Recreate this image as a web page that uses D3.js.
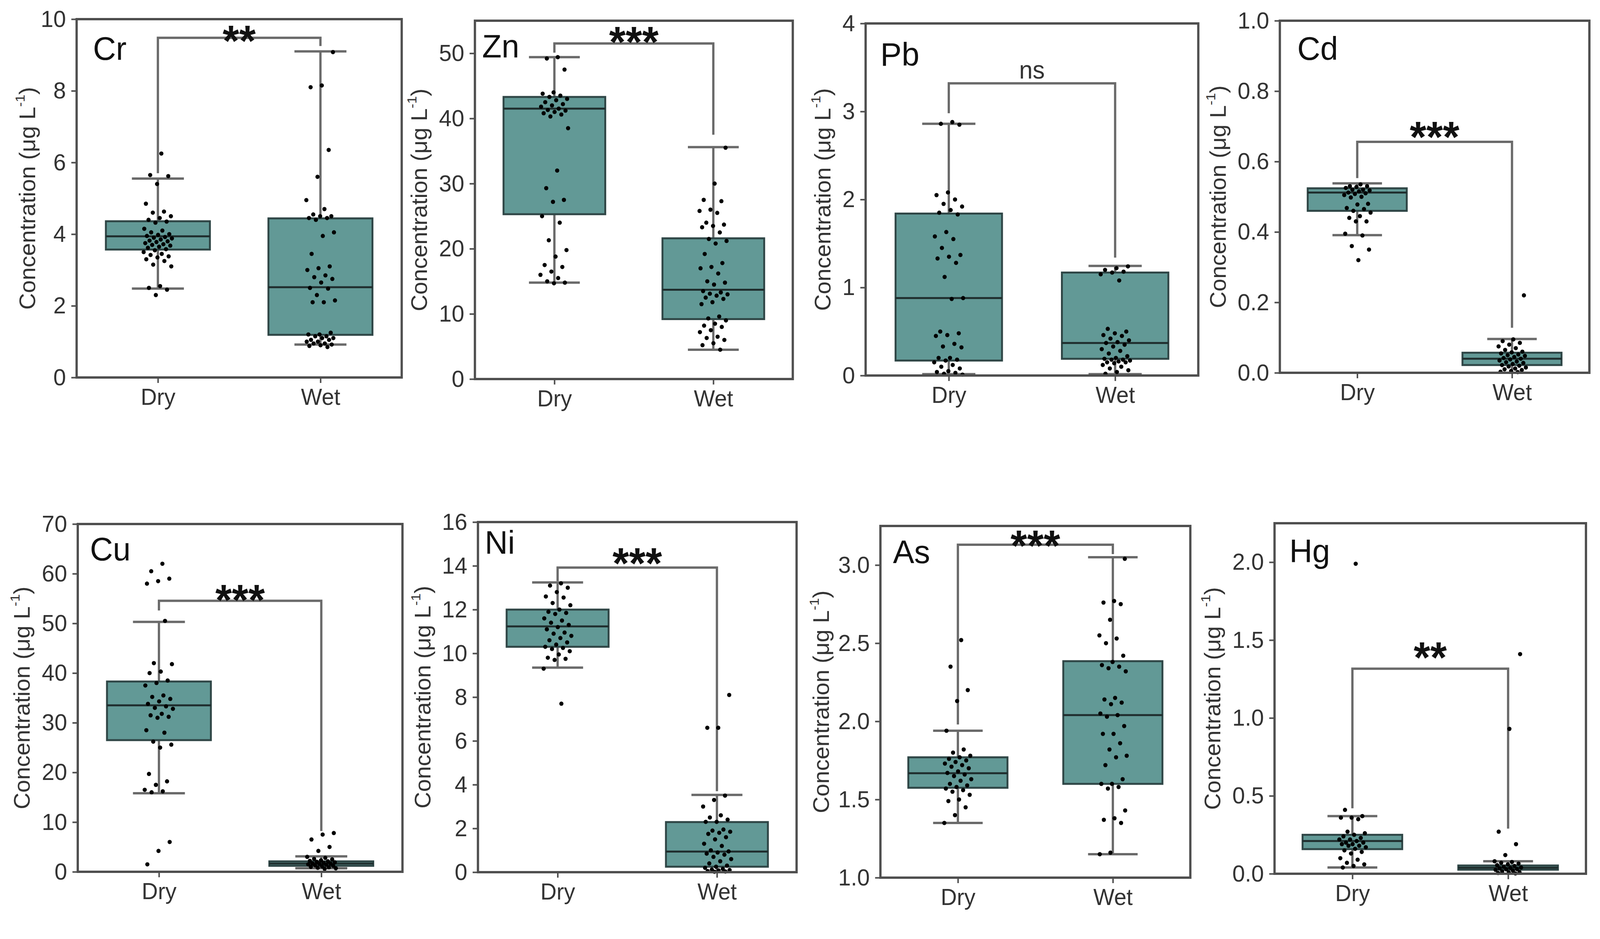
<!DOCTYPE html>
<html><head><meta charset="utf-8">
<script src="https://cdn.jsdelivr.net/npm/d3@7"></script>
<style>html,body{margin:0;padding:0;background:#fff;overflow:hidden}svg{display:block;width:100vw;height:100vh}</style></head>
<body>
<svg id="c" viewBox="0 0 4218 2403" preserveAspectRatio="none"></svg>
<script>
// ---------------- DATA ----------------
const elements = ["Cr","Zn","Pb","Cd","Cu","Ni","As","Hg"];
const groups = ["Dry","Wet"];
const sigLabels = ["**","***","ns","***","***","***","***","**"];
const yDomains = [[0,10],[0,55],[0,4],[0,1.0],[0,70],[0,16],[1.0,3.25],[0,2.25]];
const crTicks=[0,2,4,6,8,10], znTicks=[0,10,20,30,40,50], pbTicks=[0,1,2,3,4],
      cdTicks=[0.0,0.2,0.4,0.6,0.8,1.0], cuTicks=[0,10,20,30,40,50,60,70],
      niTicks=[0,2,4,6,8,10,12,14,16], asTicks=[1.0,1.5,2.0,2.5,3.0], hgTicks=[0.0,0.5,1.0,1.5,2.0];
const tickFormats = ["d","d","d",".1f","d","d",".1f",".1f"];

// box stats: [lower whisker, Q1, median, Q3, upper whisker] for Dry, Wet
const crBox=[[2.48,3.57,3.94,4.36,5.55],[0.92,1.19,2.52,4.44,9.1]];
const znBox=[[14.8,25.3,41.5,43.3,49.4],[4.5,9.2,13.7,21.6,35.6]];
const pbBox=[[0.015,0.17,0.88,1.84,2.86],[0.015,0.19,0.37,1.17,1.245]];
const cdBox=[[0.391,0.46,0.512,0.524,0.538],[0.0,0.022,0.04,0.057,0.096]];
const cuBox=[[15.8,26.5,33.5,38.3,50.3],[0.7,1.2,1.65,2.1,3.1]];
const niBox=[[9.35,10.3,11.23,12.0,13.24],[0.0,0.25,0.94,2.29,3.53]];
const asBox=[[1.35,1.575,1.668,1.77,1.94],[1.15,1.6,2.04,2.385,3.05]];
const hgBox=[[0.04,0.158,0.21,0.25,0.37],[0.0,0.026,0.039,0.053,0.08]];

// significance bracket: [bracket level, Dry leg end, Wet leg end]
const crBracket=[9.48,5.7,9.25], znBracket=[51.5,50.1,37.5], pbBracket=[3.32,2.98,1.34],
      cdBracket=[0.656,0.553,0.128], cuBracket=[54.55,52.6,8.2], niBracket=[13.92,13.3,3.7],
      asBracket=[3.13,1.98,3.07], hgBracket=[1.316,0.42,0.29];

// individual observations
const crDry=[6.25,5.65,5.62,5.4,4.85,4.63,4.6,4.5,4.45,4.4,4.35,4.32,4.15,4.1,4.05,4.0,3.98,3.95,3.92,3.9,3.88,3.85,3.82,3.8,3.78,3.75,3.72,3.7,3.68,3.65,3.62,3.58,3.55,3.5,3.45,3.42,3.38,3.35,3.3,3.25,3.15,3.1,2.55,2.5,2.45,2.3];
const crWet=[9.08,8.15,8.1,6.35,5.6,4.95,4.7,4.55,4.5,4.5,4.45,4.45,4.4,4.05,3.95,3.45,3.1,3.05,3.0,2.85,2.8,2.75,2.65,2.5,2.48,2.3,2.15,2.1,2.1,1.25,1.2,1.2,1.15,1.15,1.1,1.1,1.05,1.05,1.0,1.0,0.95,0.95,0.92,0.9,0.88,0.85];
const znDry=[49.4,49.2,47.5,44,43.8,43.5,43.3,43,42.8,42.5,42.2,42,41.8,41.5,41.3,41.2,41,40.8,40.6,40.3,38.5,32,29.3,27.5,27.2,25,24,21.3,19.8,18.8,17.5,17.2,16.5,16,15.5,15,14.8,14.7];
const znWet=[35.5,30,27.5,27.3,26,25.8,25.5,24,23.7,23.5,23.3,22.5,21.5,21.2,20.8,19.2,17.8,17.2,17,16.2,15,14.8,14.5,13.5,13.3,13.1,13,12.8,12.5,12.3,11.8,11.5,9.6,9.3,9,8.5,8.2,8,7.5,7.2,6.5,6.3,6,5.5,5.2,4.5];
const pbDry=[2.88,2.86,2.85,2.08,2.05,2.0,1.95,1.92,1.88,1.85,1.83,1.63,1.58,1.55,1.45,1.37,1.35,1.33,1.28,1.12,0.88,0.87,0.5,0.48,0.46,0.45,0.36,0.33,0.32,0.2,0.2,0.18,0.17,0.15,0.12,0.1,0.08,0.05,0.04,0.03,0.02,0.01];
const pbWet=[1.24,1.22,1.2,1.18,1.17,1.15,1.08,0.53,0.5,0.48,0.46,0.45,0.42,0.4,0.38,0.37,0.35,0.33,0.3,0.28,0.25,0.22,0.2,0.19,0.18,0.18,0.17,0.16,0.15,0.15,0.14,0.12,0.1,0.08,0.06,0.04,0.02];
const cdDry=[0.535,0.53,0.53,0.528,0.525,0.52,0.52,0.518,0.515,0.512,0.51,0.508,0.505,0.5,0.498,0.48,0.478,0.468,0.465,0.46,0.455,0.445,0.44,0.43,0.43,0.395,0.39,0.36,0.35,0.32];
const cdWet=[0.22,0.095,0.09,0.085,0.08,0.075,0.07,0.065,0.06,0.058,0.055,0.052,0.05,0.048,0.045,0.042,0.04,0.038,0.035,0.032,0.03,0.028,0.025,0.022,0.02,0.018,0.015,0.012,0.01,0.008,0.005,0.003,0.002];
const cuDry=[62,60.5,59,58.5,58,50.5,42,41.8,40.3,40,38.5,38,37.5,35.5,35.2,34.8,34.3,33.8,33.3,33,32.8,31.8,31.5,31.2,31,28.5,28,26.2,25.6,25,19.7,18.2,17.5,16.5,16.2,16,6,4.2,1.5];
const cuWet=[7.8,7.5,6.5,5,4.2,3,2.8,2.6,2.5,2.3,2.2,2.1,2.0,1.9,1.8,1.7,1.65,1.6,1.5,1.4,1.3,1.2,1.1,1.0,0.9,0.8,0.7,0.6];
const niDry=[13.2,13.1,13.0,12.8,12.6,12.55,12.3,12.2,12.0,11.9,11.85,11.8,11.6,11.5,11.4,11.3,11.2,11.1,10.95,10.9,10.8,10.7,10.6,10.5,10.4,10.3,10.25,10.2,10.1,9.95,9.8,9.75,9.7,9.3,7.7];
const niWet=[8.1,6.6,6.6,3.5,3.3,3.0,2.6,2.5,2.4,2.3,2.3,1.95,1.9,1.85,1.8,1.75,1.6,1.5,1.3,1.2,1.0,0.95,0.9,0.85,0.8,0.7,0.6,0.5,0.4,0.3,0.25,0.2,0.15,0.12,0.1,0.08,0.05,0.03,0.02];
const asDry=[2.52,2.35,2.2,2.13,1.94,1.82,1.8,1.78,1.77,1.76,1.75,1.74,1.73,1.72,1.71,1.7,1.68,1.67,1.66,1.65,1.63,1.62,1.6,1.59,1.58,1.57,1.56,1.55,1.53,1.5,1.49,1.45,1.4,1.35];
const asWet=[3.04,2.77,2.76,2.75,2.65,2.55,2.53,2.5,2.42,2.38,2.36,2.35,2.34,2.32,2.15,2.14,2.12,2.11,2.05,2.04,2.03,1.97,1.92,1.92,1.86,1.82,1.78,1.77,1.72,1.63,1.6,1.6,1.58,1.57,1.43,1.38,1.37,1.35,1.16,1.15];
const hgDry=[1.99,0.41,0.37,0.36,0.36,0.35,0.27,0.26,0.25,0.24,0.23,0.22,0.22,0.21,0.2,0.2,0.19,0.19,0.18,0.18,0.17,0.16,0.15,0.14,0.13,0.1,0.09,0.07,0.06,0.05,0.04];
const hgWet=[1.41,0.93,0.27,0.19,0.12,0.08,0.075,0.07,0.065,0.06,0.055,0.05,0.045,0.04,0.038,0.035,0.03,0.028,0.025,0.02,0.015,0.01,0.008,0.005,0.002];

const pointSets=[[crDry,crWet],[znDry,znWet],[pbDry,pbWet],[cdDry,cdWet],[cuDry,cuWet],[niDry,niWet],[asDry,asWet],[hgDry,hgWet]];
const boxSets=[crBox,znBox,pbBox,cdBox,cuBox,niBox,asBox,hgBox];
const bracketSets=[crBracket,znBracket,pbBracket,cdBracket,cuBracket,niBracket,asBracket,hgBracket];
const tickSets=[crTicks,znTicks,pbTicks,cdTicks,cuTicks,niTicks,asTicks,hgTicks];

// ---------------- LAYOUT ----------------
const frames=[[202,49,1059,966],[1252,53,2090,970],[2282,60,3159,961],[3374,53,4190,954],
              [205,1341,1061,2231],[1260,1336,2100,2232],[2321,1346,3138,2246],[3360,1339,4181,2236]];
const labelOff=[[43,104],[19,94],[39,108],[46,100],[32,93],[18,81],[33,95],[39,100]];
const titleOff=[125,142,108,158,142,140,151,158];
const sigGap=[18,29,12,38,27,36,23,54];

const FONT="'Liberation Sans', Arial, sans-serif";
const FILL="#629996", STROKE="#2f4646", FRAME="#4f4f4f", LINE="#6a6a6a", TXT="#333";
const svg=d3.select("#c");

elements.forEach((el,k)=>{
  const [L,T,R,B]=frames[k];
  const W=R-L;
  const x=d3.scalePoint().domain(groups).range([L,R]).padding(0.5);
  const y=d3.scaleLinear().domain(yDomains[k]).range([B,T]);
  const g=svg.append("g");

  // axes
  const ya=g.append("g").attr("transform",`translate(${L},0)`)
    .call(d3.axisLeft(y).tickValues(tickSets[k]).tickFormat(d3.format(tickFormats[k])).tickSize(14).tickPadding(14));
  const xa=g.append("g").attr("transform",`translate(0,${B})`)
    .call(d3.axisBottom(x).tickSize(14).tickPadding(14));
  [ya,xa].forEach(a=>{
    a.select(".domain").remove();
    a.selectAll(".tick line").attr("stroke",FRAME).attr("stroke-width",4);
    a.selectAll(".tick text").attr("fill",TXT).attr("font-family",FONT);
  });
  ya.selectAll(".tick text").attr("font-size",60);
  xa.selectAll(".tick text").attr("font-size",59);

  // y title
  const tx=L-titleOff[k], ty=(T+B)/2;
  const t=g.append("text").attr("transform",`translate(${tx},${ty}) rotate(-90)`)
    .attr("text-anchor","middle").attr("dominant-baseline","middle")
    .attr("font-family",FONT).attr("font-size",59).attr("fill",TXT);
  t.append("tspan").text("Concentration (μg L");
  t.append("tspan").text("-1").attr("font-size",35).attr("dy",-21);
  t.append("tspan").text(")").attr("dy",21);

  // boxes
  const bw=0.32*W, cw=0.16*W;
  groups.forEach((gname,i)=>{
    const [mn,q1,md,q3,mx]=boxSets[k][i];
    const cx=x(gname);
    g.append("line").attr("x1",cx).attr("x2",cx).attr("y1",y(mn)).attr("y2",y(q1)).attr("stroke",LINE).attr("stroke-width",6);
    g.append("line").attr("x1",cx).attr("x2",cx).attr("y1",y(q3)).attr("y2",y(mx)).attr("stroke",LINE).attr("stroke-width",6);
    [mn,mx].forEach(v=>g.append("line").attr("x1",cx-cw/2).attr("x2",cx+cw/2).attr("y1",y(v)).attr("y2",y(v)).attr("stroke",LINE).attr("stroke-width",6));
    g.append("rect").attr("x",cx-bw/2).attr("y",y(q3)).attr("width",bw).attr("height",Math.max(1,y(q1)-y(q3)))
      .attr("fill",FILL).attr("stroke",STROKE).attr("stroke-width",5);
    g.append("line").attr("x1",cx-bw/2).attr("x2",cx+bw/2).attr("y1",y(md)).attr("y2",y(md)).attr("stroke","#1f2d2d").attr("stroke-width",5);
  });

  // bracket
  const [bl,l0,l1]=bracketSets[k];
  const x0=x("Dry"), x1=x("Wet");
  g.append("path").attr("d",`M${x0},${y(l0)}V${y(bl)}H${x1}V${y(l1)}`)
    .attr("fill","none").attr("stroke",LINE).attr("stroke-width",6);
  const sig=sigLabels[k];
  if(sig==="ns"){
    g.append("text").attr("x",(x0+x1)/2).attr("y",y(bl)-sigGap[k]).attr("text-anchor","middle")
      .attr("font-family",FONT).attr("font-size",64).attr("fill",TXT).text(sig);
  } else {
    g.append("text").attr("x",(x0+x1)/2).attr("y",y(bl)-sigGap[k]+0.57*112).attr("text-anchor","middle")
      .attr("font-family",FONT).attr("font-weight","bold").attr("font-size",112).attr("fill","#111").text(sig);
  }

  // points (deterministic spread around group centre)
  groups.forEach((gname,i)=>{
    const pts=pointSets[k][i];
    g.append("g").selectAll("circle").data(pts).join("circle")
      .attr("cx",(d,j)=>x(gname)+((((j+1)*0.6180339887+0.31*i)%1)-0.5)*2*0.045*W)
      .attr("cy",d=>y(d)).attr("r",5.5).attr("fill","#000");
  });

  // frame
  g.append("rect").attr("x",L).attr("y",T).attr("width",W).attr("height",B-T)
    .attr("fill","none").attr("stroke",FRAME).attr("stroke-width",6);

  // element label
  g.append("text").attr("x",L+labelOff[k][0]).attr("y",T+labelOff[k][1])
    .attr("font-family",FONT).attr("font-size",84).attr("fill","#111").text(el);
});
</script>
</body></html>
